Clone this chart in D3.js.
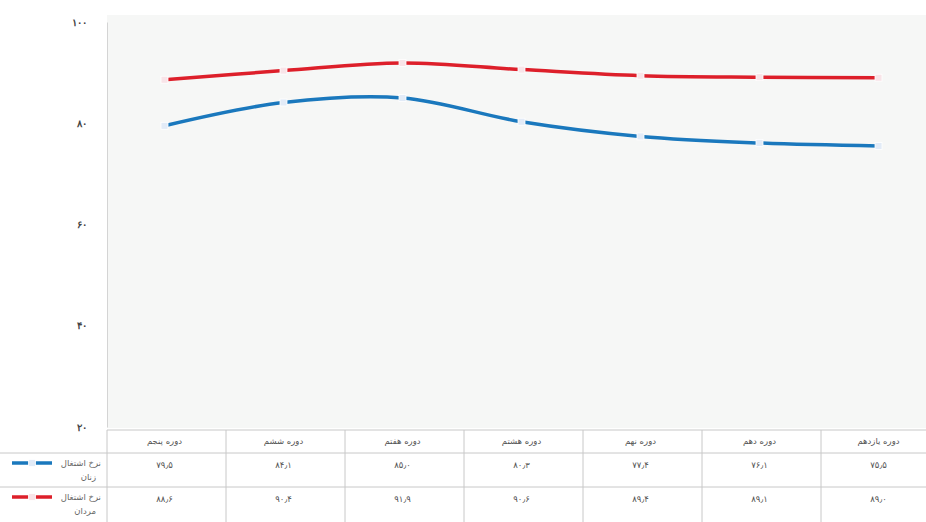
<!DOCTYPE html>
<html>
<head>
<meta charset="utf-8">
<script src="https://cdn.jsdelivr.net/npm/d3@7"></script>
<style>
  body { margin: 0; background: #fff; }
  svg { display: block; font-family: "DejaVu Sans", sans-serif; }
</style>
</head>
<body>
<svg></svg>
<script>
var width = 926,
    height = 522;

// Chart data
var periods = ['دوره پنجم', 'دوره ششم', 'دوره هفتم', 'دوره هشتم', 'دوره نهم', 'دوره دهم', 'دوره یازدهم'];
var women = [79.5, 84.1, 85.0, 80.3, 77.4, 76.1, 75.5];
var men = [88.6, 90.4, 91.9, 90.6, 89.4, 89.1, 89.0];
var seriesNames = ['نرخ اشتغال زنان', 'نرخ اشتغال مردان'];
var yTicks = [20, 40, 60, 80, 100];

// Persian digits
function fa(s) {
    return String(s).replace(/[0-9]/g, function(c) { return '۰۱۲۳۴۵۶۷۸۹'[+c]; })
        .replace('.', '٫');
}

var plotTop = 15, plotBottom = 428, plotLeft = 105, plotRight = 938;

var x = d3.scaleBand()
    .domain(periods)
    .range([plotLeft, plotRight])
    .padding(0);

var y = d3.scaleLinear()
    .domain([20, 100])
    .range([plotBottom - 1, 22]);

var svg = d3.select('svg')
    .attr('width', width)
    .attr('height', height);

// Plot area background
svg.append('rect')
    .attr('x', plotLeft + 2)
    .attr('y', plotTop)
    .attr('width', plotRight - plotLeft)
    .attr('height', plotBottom - plotTop)
    .attr('fill', '#f6f7f6');

// Y axis
var yAxis = svg.append('g')
    .attr('transform', 'translate(' + (plotLeft + 2) + ',0)')
    .call(d3.axisLeft(y).tickValues(yTicks).tickSize(0).tickPadding(20).tickFormat(fa));
yAxis.select('.domain').attr('stroke', '#d4d4d4');
yAxis.selectAll('text')
    .attr('fill', '#444')
    .style('font-size', '10px')
    .style('font-weight', 'bold');

// Lines
var line = d3.line()
    .x(function(d, i) { return x(periods[i]) + x.bandwidth() / 2; })
    .y(function(d) { return y(d); })
    .curve(d3.curveCatmullRom.alpha(0.5));

var series = [
    { name: seriesNames[0], values: women, color: '#1a78bd', marker: '#e2ebf7' },
    { name: seriesNames[1], values: men, color: '#dd1f2a', marker: '#f8e4e8' }
];

series.forEach(function(s) {
    svg.append('path')
        .datum(s.values)
        .attr('d', line)
        .attr('fill', 'none')
        .attr('stroke', s.color)
        .attr('stroke-width', 3.5);

    svg.selectAll(null)
        .data(s.values)
        .enter().append('rect')
        .attr('x', function(d, i) { return x(periods[i]) + x.bandwidth() / 2 - 3.5; })
        .attr('y', function(d) { return y(d) - 3.5; })
        .attr('width', 7)
        .attr('height', 7)
        .attr('fill', s.marker)
        .attr('stroke', '#ffffff')
        .attr('stroke-width', 0.8);
});

// Data table
var rowTop = [430, 453, 487];
var tableBottom = 530;
var grid = '#c8c8c8';

svg.append('line')
    .attr('x1', plotLeft + 2).attr('x2', width)
    .attr('y1', rowTop[0]).attr('y2', rowTop[0])
    .attr('stroke', grid);
[rowTop[1], rowTop[2]].forEach(function(yy) {
    svg.append('line')
        .attr('x1', 0).attr('x2', width)
        .attr('y1', yy).attr('y2', yy)
        .attr('stroke', grid);
});
svg.selectAll(null)
    .data(periods)
    .enter().append('line')
    .attr('x1', function(d) { return x(d) + 2; })
    .attr('x2', function(d) { return x(d) + 2; })
    .attr('y1', rowTop[0])
    .attr('y2', tableBottom)
    .attr('stroke', grid);

// Header row
svg.selectAll(null)
    .data(periods)
    .enter().append('text')
    .attr('x', function(d) { return x(d) + x.bandwidth() / 2; })
    .attr('y', 444)
    .attr('text-anchor', 'middle')
    .attr('fill', '#555')
    .style('font-size', '8.5px')
    .text(function(d) { return d; });

// Value rows + legend keys
series.forEach(function(s, k) {
    var top = rowTop[k + 1];
    svg.selectAll(null)
        .data(s.values)
        .enter().append('text')
        .attr('x', function(d, i) { return x(periods[i]) + x.bandwidth() / 2; })
        .attr('y', top + 15)
        .attr('text-anchor', 'middle')
        .attr('fill', '#555')
        .style('font-size', '8.5px')
        .text(function(d) { return fa(d.toFixed(1)); });

    var words = s.name.split(' ');
    svg.append('text')
        .attr('x', 101)
        .attr('y', top + 13)
        .attr('text-anchor', 'end')
        .attr('fill', '#666')
        .style('font-size', '8.5px')
        .text(words[0] + ' ' + words[1]);
    svg.append('text')
        .attr('x', 96)
        .attr('y', top + 27)
        .attr('text-anchor', 'end')
        .attr('fill', '#666')
        .style('font-size', '8.5px')
        .text(words[2]);

    svg.append('line')
        .attr('x1', 12).attr('x2', 52)
        .attr('y1', top + 10).attr('y2', top + 10)
        .attr('stroke', s.color)
        .attr('stroke-width', 3.5);
    svg.append('rect')
        .attr('x', 28.5).attr('y', top + 6.5)
        .attr('width', 7).attr('height', 7)
        .attr('fill', s.marker)
        .attr('stroke', '#fff')
        .attr('stroke-width', 0.8);
});
</script>
</body>
</html>
